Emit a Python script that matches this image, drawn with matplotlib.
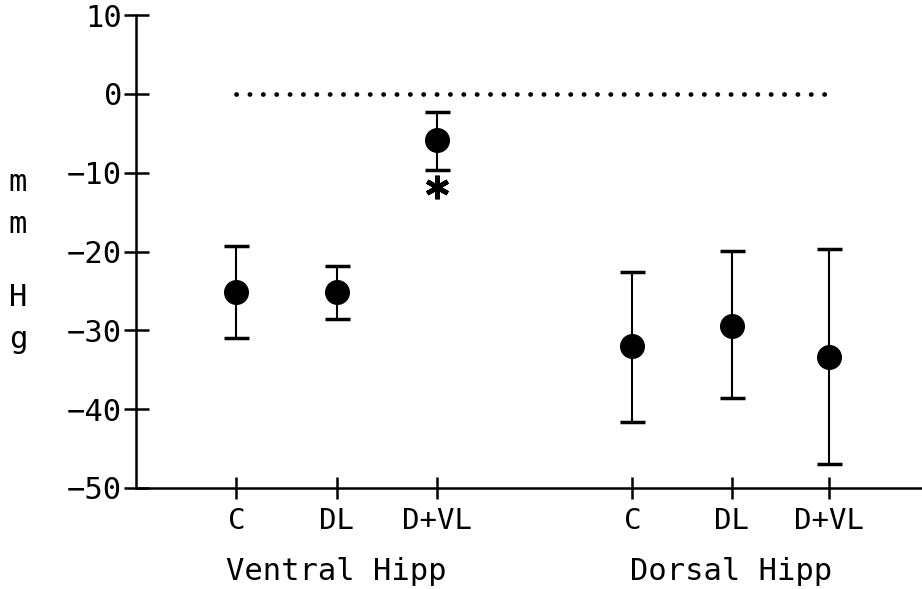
import matplotlib
matplotlib.use("Agg")
import matplotlib.pyplot as plt

# Data
categories = ["C", "DL", "D+VL", "C", "DL", "D+VL"]
groups = ["Ventral Hipp", "Dorsal Hipp"]
positions = [1, 2, 3, 4.95, 5.94, 6.91]
means = [-25.2, -25.1, -5.8, -32.0, -29.4, -33.4]
err_upper = [-19.3, -21.8, -2.3, -22.6, -19.9, -19.7]
err_lower = [-31.0, -28.6, -9.7, -41.6, -38.6, -47.0]
yticks = [10, 0, -10, -20, -30, -40, -50]
star_y = -11.8

FONT = "DejaVu Sans Mono"

fig = plt.figure(figsize=(9.22, 5.89), dpi=100)
ax = fig.add_axes([0.1475, 0.1715, 0.8525, 0.803])

yerr = [[m - lo for m, lo in zip(means, err_lower)],
        [hi - m for m, hi in zip(means, err_upper)]]
ax.errorbar(positions, means, yerr=yerr, fmt="o", color="black",
            markersize=17, elinewidth=1.5, capsize=9, capthick=2.5,
            zorder=3)

# dotted zero reference line
ax.plot([positions[0], positions[-1]], [0, 0], color="black", lw=3.4,
        linestyle=(0, (0.05, 2.78)), dash_capstyle="round", zorder=2)

# significance asterisk
ax.plot([positions[2]], [star_y], marker=(6, 2, 0), color="black",
        markersize=17, markeredgewidth=3.4, linestyle="none", zorder=3)

ax.set_xlim(0, 7.84)
ax.set_ylim(-50, 10)

for s in ["top", "right"]:
    ax.spines[s].set_visible(False)
for s in ["left", "bottom"]:
    ax.spines[s].set_linewidth(1.8)

ax.set_yticks(yticks)
ax.set_yticklabels([str(v).replace("-", "\u2212") for v in yticks],
                   family=FONT, fontsize=22)
ax.tick_params(axis="y", direction="inout", length=18, width=1.8, pad=1)

ax.set_xticks(positions)
ax.set_xticklabels(categories, family=FONT, fontsize=21)
ax.tick_params(axis="x", direction="inout", length=16, width=1.8, pad=6)

# group labels
ax.text(2, -61.7, groups[0], ha="center", va="baseline", family=FONT,
        fontsize=22, clip_on=False)
ax.text(5.94, -61.7, groups[1], ha="center", va="baseline", family=FONT,
        fontsize=22, clip_on=False)

# stacked y-axis label "mmHg"
for ch, yp in zip(["m", "m", "H", "g"], [183, 225, 297, 340]):
    fig.text(18 / 922, 1 - yp / 589, ch, ha="center", va="center",
             family=FONT, fontsize=22)

fig.savefig("out.png", dpi=100)
